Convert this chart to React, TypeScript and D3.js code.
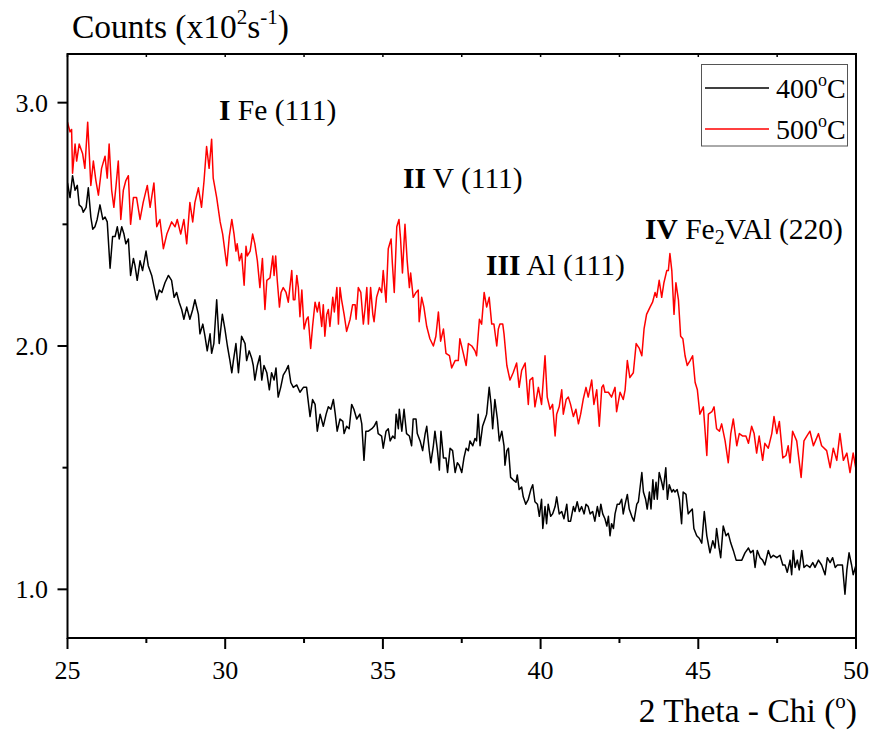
import React from "react";
import * as d3 from "d3";

const theta500 = [25.00,25.08,25.13,25.16,25.24,25.29,25.37,25.48,25.55,25.64,25.74,25.82,25.90,25.98,26.08,26.19,26.26,26.32,26.40,26.47,26.54,26.61,26.69,26.77,26.85,26.93,27.00,27.09,27.19,27.30,27.40,27.53,27.62,27.74,27.83,27.93,28.04,28.15,28.30,28.41,28.48,28.59,28.69,28.78,28.88,28.97,29.04,29.15,29.25,29.33,29.41,29.49,29.57,29.62,29.73,
  29.84,29.92,30.05,30.13,30.21,30.28,30.34,30.38,30.45,30.52,30.60,30.66,30.70,30.79,30.87,30.94,31.02,31.10,31.18,31.26,31.32,31.42,31.51,31.55,31.60,31.65,31.72,31.77,31.84,31.93,32.00,32.05,32.11,32.16,32.21,32.27,32.32,32.37,32.43,32.50,32.58,32.63,32.71,32.77,32.85,32.92,32.98,33.06,33.11,33.16,33.22,33.27,33.32,33.41,33.46,33.54,33.59,33.64,33.69,33.77,33.85,33.96,34.04,34.12,34.15,34.22,34.30,34.38,34.43,34.49,34.54,34.61,34.68,34.72,34.80,34.89,
  34.96,35.01,35.10,35.17,35.26,35.30,35.36,35.44,35.51,35.56,35.62,35.70,35.77,35.84,35.88,35.96,36.05,36.12,36.15,36.23,36.30,36.39,36.49,36.60,36.68,36.76,36.83,36.92,37.00,37.11,37.18,37.29,37.39,37.44,37.55,37.64,37.71,37.82,37.92,37.97,38.06,38.13,38.21,38.29,38.37,38.45,38.52,38.61,38.66,38.71,38.80,38.84,38.93,39.03,39.13,39.24,39.32,39.40,39.51,39.61,39.66,39.75,39.82,39.93,40.03,40.14,40.21,40.30,40.38,40.46,40.51,40.59,40.67,40.72,40.81,40.88,40.95,41.04,41.12,41.20,41.27,41.35,41.44,41.51,41.62,41.69,41.78,41.86,41.94,41.99,42.04,42.15,42.25,42.36,42.41,42.52,42.62,42.68,42.75,42.83,42.94,43.03,43.13,43.21,43.28,43.36,43.47,43.55,43.63,43.68,43.76,43.84,43.91,44.00,44.05,44.10,44.16,44.23,44.29,44.37,44.44,44.51,44.58,44.65,44.74,44.82,44.90,44.97,45.05,45.16,45.27,45.32,45.43,45.50,45.58,45.67,45.74,45.85,45.95,46.03,46.11,46.22,46.30,46.41,46.51,46.59,46.69,46.77,46.85,46.93,47.04,47.11,47.22,47.33,47.40,47.49,47.57,47.68,47.78,47.85,47.91,47.99,48.12,48.26,48.35,48.44,48.54,48.65,48.81,48.91,49.07,49.18,49.28,49.39,49.49,49.60,49.71,49.81,49.91,49.99];
const counts500 = [2.92,2.88,2.89,2.71,2.83,2.76,2.83,2.79,2.73,2.92,2.66,2.76,2.68,2.62,2.73,2.78,2.69,2.83,2.64,2.57,2.66,2.76,2.52,2.64,2.68,2.70,2.50,2.61,2.61,2.52,2.59,2.66,2.57,2.67,2.49,2.52,2.40,2.46,2.51,2.49,2.52,2.46,2.52,2.42,2.59,2.51,2.59,2.65,2.57,2.68,2.82,2.73,2.85,2.69,2.61,
  2.51,2.46,2.33,2.45,2.52,2.46,2.39,2.42,2.35,2.38,2.25,2.41,2.37,2.39,2.46,2.42,2.35,2.24,2.36,2.15,2.27,2.28,2.37,2.29,2.37,2.27,2.16,2.22,2.24,2.22,2.18,2.24,2.31,2.19,2.19,2.29,2.24,2.12,2.23,2.07,2.11,2.12,1.99,2.08,2.18,2.14,2.18,2.08,2.17,2.04,2.13,2.15,2.08,2.20,2.14,2.24,2.09,2.24,2.19,2.13,2.06,2.11,2.17,2.17,2.11,2.24,2.22,2.09,2.15,2.24,2.09,2.24,2.13,2.10,2.20,2.24,
  2.22,2.31,2.18,2.40,2.44,2.34,2.22,2.49,2.52,2.44,2.30,2.50,2.35,2.24,2.30,2.20,2.22,2.23,2.10,2.20,2.16,2.08,2.03,2.00,2.04,2.14,2.02,2.07,1.97,1.96,1.91,1.94,1.94,2.03,1.97,1.92,2.01,2.00,1.98,1.96,2.11,2.09,2.22,2.16,2.20,2.09,2.09,2.00,2.07,2.09,2.09,2.05,1.92,1.86,1.89,1.93,1.83,1.90,1.93,1.76,1.86,1.87,1.75,1.83,1.76,1.96,1.79,1.74,1.76,1.63,1.72,1.75,1.82,1.72,1.78,1.79,1.76,1.71,1.74,1.68,1.72,1.78,1.83,1.79,1.86,1.76,1.82,1.67,1.83,1.84,1.81,1.81,1.79,1.83,1.73,1.81,1.78,1.82,1.94,1.87,1.89,2.01,1.99,1.96,2.07,2.13,2.16,2.18,2.22,2.20,2.27,2.20,2.26,2.31,2.31,2.38,2.31,2.13,2.26,2.19,2.04,2.03,1.96,1.92,1.94,1.96,1.85,1.82,1.72,1.75,1.55,1.72,1.73,1.75,1.66,1.65,1.68,1.61,1.52,1.64,1.70,1.59,1.64,1.63,1.63,1.60,1.67,1.64,1.56,1.63,1.53,1.60,1.58,1.64,1.71,1.64,1.69,1.54,1.55,1.59,1.52,1.65,1.61,1.46,1.61,1.63,1.65,1.59,1.64,1.59,1.57,1.50,1.58,1.53,1.64,1.53,1.56,1.48,1.56,1.50];

const theta400 = [25.00,25.08,25.16,25.24,25.31,25.37,25.45,25.50,25.59,25.66,25.74,25.80,25.87,25.94,26.03,26.12,26.19,26.26,26.35,26.43,26.51,26.58,26.64,26.72,26.79,26.85,26.93,27.00,27.09,27.14,27.21,27.30,27.38,27.49,27.56,27.67,27.75,27.83,27.91,27.99,28.09,28.20,28.30,28.38,28.46,28.54,28.62,28.69,28.78,28.88,28.97,29.04,29.15,29.20,29.29,29.36,29.43,29.52,29.57,29.64,29.73,29.81,29.91,29.99,30.07,30.15,30.21,30.26,30.34,30.42,30.52,30.63,30.68,30.76,30.84,30.89,30.94,31.02,31.10,31.16,31.23,31.32,31.40,31.47,31.55,31.61,31.68,31.76,31.84,31.93,32.00,32.08,32.16,32.27,32.37,32.48,32.58,32.69,32.77,32.85,32.92,33.01,33.11,33.20,33.27,33.35,33.43,33.49,33.55,33.64,33.73,33.77,33.85,33.93,34.01,34.08,34.17,34.27,34.33,34.40,34.46,34.54,34.65,34.72,34.80,34.85,34.96,35.01,35.10,35.17,35.23,35.31,35.38,35.42,35.49,35.52,35.60,35.67,35.75,35.84,35.91,35.96,36.05,36.09,36.18,36.26,36.34,36.39,36.47,36.52,36.60,36.65,36.73,36.79,36.84,36.92,37.00,37.05,37.13,37.21,37.29,37.36,37.42,37.50,37.57,37.64,37.71,37.76,37.85,37.92,37.97,38.02,38.08,38.16,38.24,38.29,38.37,38.43,38.48,38.55,38.63,38.69,38.77,38.84,38.87,38.93,38.98,39.05,39.13,39.22,39.26,39.32,39.40,39.45,39.53,39.61,39.69,39.75,39.82,39.90,39.96,40.03,40.07,40.14,40.19,40.24,40.32,40.38,40.46,40.51,40.59,40.67,40.74,40.83,40.88,40.95,41.04,41.09,41.16,41.23,41.30,41.38,41.44,41.51,41.57,41.65,41.72,41.80,41.86,41.91,41.97,42.04,42.10,42.15,42.20,42.25,42.31,42.36,42.43,42.50,42.57,42.62,42.68,42.75,42.81,42.89,42.96,43.05,43.10,43.21,43.26,43.33,43.38,43.45,43.50,43.56,43.60,43.66,43.70,43.76,43.84,43.89,43.97,44.02,44.08,44.16,44.21,44.26,44.33,44.40,44.47,44.52,44.61,44.68,44.74,44.81,44.86,44.95,45.03,45.11,45.19,45.27,45.37,45.46,45.53,45.58,45.66,45.71,45.79,45.88,45.95,46.03,46.11,46.20,46.27,46.38,46.48,46.59,46.66,46.74,46.80,46.87,46.96,47.04,47.11,47.22,47.30,47.38,47.49,47.59,47.68,47.75,47.82,47.91,47.96,48.01,48.07,48.14,48.20,48.28,48.35,48.44,48.54,48.63,48.70,48.81,48.91,49.02,49.09,49.18,49.26,49.34,49.41,49.49,49.57,49.65,49.71,49.78,49.86,49.91,50.00];
const counts400 = [2.67,2.61,2.70,2.64,2.66,2.58,2.57,2.55,2.57,2.65,2.53,2.48,2.49,2.52,2.58,2.52,2.53,2.51,2.32,2.45,2.45,2.49,2.44,2.49,2.46,2.42,2.44,2.29,2.36,2.33,2.27,2.35,2.31,2.39,2.33,2.29,2.24,2.19,2.23,2.22,2.26,2.29,2.27,2.20,2.22,2.18,2.15,2.11,2.16,2.11,2.15,2.19,2.13,2.05,2.09,2.04,1.98,2.05,1.97,2.01,2.19,2.01,2.13,2.07,2.00,1.94,1.89,1.94,2.01,1.89,2.04,2.01,1.94,1.98,1.95,1.92,1.86,1.92,1.96,1.86,1.92,1.89,1.82,1.89,1.86,1.91,1.79,1.83,1.88,1.90,1.92,1.85,1.83,1.84,1.81,1.83,1.83,1.71,1.78,1.76,1.65,1.72,1.67,1.72,1.75,1.74,1.78,1.72,1.65,1.70,1.69,1.64,1.67,1.66,1.76,1.74,1.70,1.72,1.68,1.53,1.65,1.65,1.66,1.67,1.69,1.64,1.63,1.58,1.65,1.66,1.61,1.63,1.62,1.72,1.66,1.74,1.65,1.74,1.64,1.63,1.59,1.70,1.70,1.64,1.61,1.57,1.64,1.67,1.57,1.52,1.59,1.65,1.57,1.49,1.65,1.54,1.54,1.48,1.58,1.57,1.48,1.52,1.51,1.48,1.54,1.58,1.57,1.61,1.59,1.62,1.61,1.72,1.59,1.67,1.70,1.72,1.83,1.76,1.66,1.78,1.70,1.61,1.65,1.59,1.51,1.57,1.58,1.46,1.45,1.44,1.47,1.41,1.42,1.38,1.35,1.37,1.41,1.43,1.36,1.35,1.30,1.37,1.25,1.34,1.27,1.35,1.30,1.31,1.34,1.38,1.31,1.32,1.29,1.35,1.28,1.28,1.34,1.32,1.36,1.32,1.34,1.31,1.35,1.34,1.31,1.32,1.28,1.34,1.30,1.35,1.31,1.29,1.26,1.30,1.22,1.27,1.25,1.31,1.35,1.35,1.37,1.31,1.35,1.39,1.33,1.30,1.28,1.35,1.36,1.48,1.40,1.37,1.33,1.40,1.33,1.45,1.37,1.44,1.37,1.48,1.44,1.41,1.50,1.37,1.43,1.40,1.41,1.40,1.41,1.37,1.27,1.40,1.39,1.31,1.32,1.33,1.25,1.22,1.21,1.19,1.32,1.22,1.15,1.20,1.17,1.25,1.17,1.13,1.26,1.22,1.23,1.19,1.16,1.12,1.12,1.12,1.15,1.17,1.15,1.16,1.09,1.16,1.13,1.12,1.10,1.16,1.13,1.14,1.13,1.14,1.10,1.10,1.07,1.12,1.06,1.16,1.09,1.12,1.08,1.16,1.09,1.10,1.09,1.11,1.09,1.12,1.10,1.06,1.13,1.11,1.13,1.09,1.10,1.10,1.10,0.98,1.08,1.15,1.10,1.06,1.10];

const xMajorTicks = [25, 30, 35, 40, 45, 50];
const xMinorTicks = [27.5, 32.5, 37.5, 42.5, 47.5];
const yMajorTicks = [1.0, 2.0, 3.0];
const yMinorTicks = [1.5, 2.5];

const seriesNames = ["400", "500"];
const seriesColors = ["#000000", "#ff0000"];

const FONT = "'Liberation Serif', 'Times New Roman', serif";

export default function App() {
  const left = 67.5, right = 856, top = 54, bottom = 638;
  const x = d3.scaleLinear().domain([25, 50]).range([left, right]);
  const y = d3.scaleLinear().domain([0.8, 3.2]).range([bottom, top]);

  const mk = (t: number[], c: number[]) =>
    d3.line<number>().x((_, i) => x(t[i])).y((_, i) => y(c[i]))(c) || "";

  const path400 = mk(theta400, counts400);
  const path500 = mk(theta500, counts500);

  return (
    <svg width={873} height={733} style={{ position: "absolute", left: 0, top: 0, background: "#fff" }} fontFamily={FONT}>
      <rect x={0} y={0} width={873} height={733} fill="#fff" />
      <defs>
        <clipPath id="plot">
          <rect x={left} y={top} width={right - left} height={bottom - top} />
        </clipPath>
      </defs>
      <g clipPath="url(#plot)">
        <path d={path400} fill="none" stroke={seriesColors[0]} strokeWidth={1.5} strokeLinejoin="round" />
        <path d={path500} fill="none" stroke={seriesColors[1]} strokeWidth={1.5} strokeLinejoin="round" />
      </g>
      <rect x={left} y={top} width={right - left} height={bottom - top} fill="none" stroke="#000" strokeWidth={2} />
      {xMajorTicks.map((t) => (
        <g key={"xm" + t}>
          <line x1={x(t)} x2={x(t)} y1={bottom} y2={bottom + 11} stroke="#000" strokeWidth={2} />
          <line x1={x(t)} x2={x(t)} y1={top} y2={top + 3} stroke="#000" strokeWidth={1.5} />
          <text x={x(t)} y={679} fontSize={26} textAnchor="middle">{t}</text>
        </g>
      ))}
      {xMinorTicks.map((t) => (
        <g key={"xn" + t}>
          <line x1={x(t)} x2={x(t)} y1={bottom} y2={bottom + 5} stroke="#000" strokeWidth={2} />
          <line x1={x(t)} x2={x(t)} y1={top} y2={top + 3} stroke="#000" strokeWidth={1.5} />
        </g>
      ))}
      {yMajorTicks.map((t) => (
        <g key={"ym" + t}>
          <line x1={left - 10} x2={left} y1={y(t)} y2={y(t)} stroke="#000" strokeWidth={2} />
          <text x={48} y={y(t) + 9} fontSize={26} textAnchor="end">{t.toFixed(1)}</text>
        </g>
      ))}
      {yMinorTicks.map((t) => (
        <line key={"yn" + t} x1={left - 5} x2={left} y1={y(t)} y2={y(t)} stroke="#000" strokeWidth={2} />
      ))}
      <text x={72} y={38} fontSize={33.5}>
        Counts (x10<tspan dy={-14} fontSize={21}>2</tspan><tspan dy={14}>s</tspan><tspan dy={-14} fontSize={21}>-1</tspan><tspan dy={14}>)</tspan>
      </text>
      <text x={857} y={722} fontSize={33.5} textAnchor="end">
        2 Theta - Chi (<tspan dy={-14} fontSize={21}>o</tspan><tspan dy={14}>)</tspan>
      </text>
      <text x={219} y={120} fontSize={29.5}><tspan fontWeight="bold">I</tspan> Fe (111)</text>
      <text x={403} y={188} fontSize={29.5}><tspan fontWeight="bold">II</tspan> V (111)</text>
      <text x={486} y={275} fontSize={29.5}><tspan fontWeight="bold">III</tspan> Al (111)</text>
      <text x={645} y={239} fontSize={29.5}>
        <tspan fontWeight="bold">IV</tspan> Fe<tspan dy={5} fontSize={20}>2</tspan><tspan dy={-5}>VAl (220)</tspan>
      </text>
      <rect x={701.5} y={64.5} width={146} height={81.5} fill="#fff" stroke="#555" strokeWidth={1} />
      {seriesNames.map((n, i) => (
        <g key={n}>
          <line x1={705} x2={769} y1={88 + i * 41} y2={88 + i * 41} stroke={seriesColors[i]} strokeWidth={1.5} />
          <text x={776} y={98 + i * 41} fontSize={28}>
            {n}<tspan dy={-12} fontSize={18}>o</tspan><tspan dy={12}>C</tspan>
          </text>
        </g>
      ))}
    </svg>
  );
}
